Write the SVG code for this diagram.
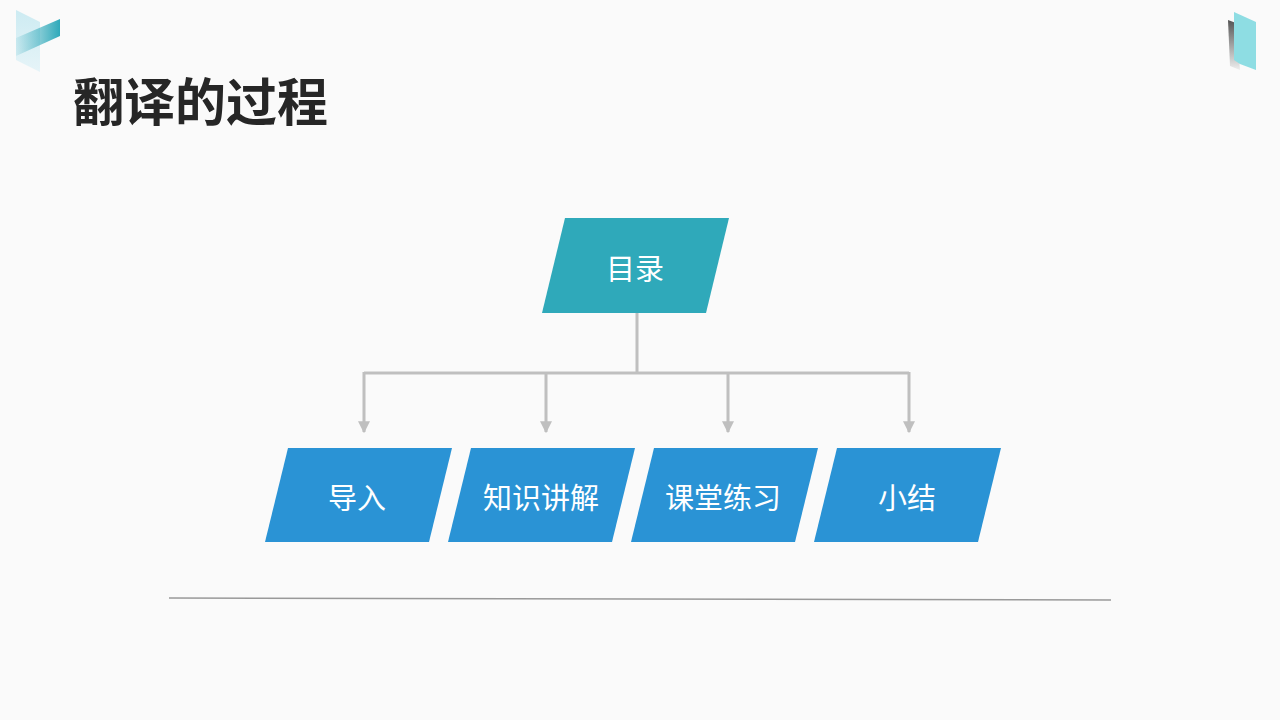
<svg xmlns="http://www.w3.org/2000/svg" width="1280" height="720" viewBox="0 0 1280 720">
<defs>
<style>
.title{font-family:"Noto Sans CJK SC","Noto Sans",sans-serif;font-weight:700;font-size:51px;fill:#262626}
.lbl{font-family:"Noto Sans CJK SC","Noto Sans",sans-serif;font-size:29px;font-weight:400;fill:#ffffff;text-anchor:middle;dominant-baseline:central}
.sub{fill:#2A93D5}
.conn{stroke:#BFBFBF;stroke-width:3;fill:none}
</style>
<marker id="arr" viewBox="0 0 10 10" refX="9" refY="5" markerWidth="4" markerHeight="4" markerUnits="strokeWidth" orient="auto">
<path d="M0,0 L10,5 L0,10 Z" fill="#BFBFBF"/>
</marker>
<linearGradient id="lg1" x1="0" y1="0" x2="0" y2="1"><stop offset="0" stop-color="#CDEBF2"/><stop offset="1" stop-color="#E6F4F8"/></linearGradient>
<linearGradient id="lg2" x1="0" y1="0" x2="1" y2="0"><stop offset="0" stop-color="#2FA9BA" stop-opacity="0.1"/><stop offset="1" stop-color="#2FA9BA"/></linearGradient>
<linearGradient id="lg3" x1="0" y1="0" x2="0" y2="1"><stop offset="0" stop-color="#555"/><stop offset="1" stop-color="#EEE"/></linearGradient>
</defs>
<rect width="1280" height="720" fill="#FAFAFA"/>
<g id="logo-left">
<polygon points="16,10 40,22 40,72 16,60" fill="url(#lg1)"/>
<polygon points="16,38 60,19 60,36 16,56" fill="url(#lg2)"/>
</g>
<g id="logo-right">
<polygon points="1228,20 1236,23 1240,70 1230,66" fill="url(#lg3)"/>
<polygon points="1234,12 1256,22 1256,70 1240,64 1234,60" fill="#8EDDE3"/>
</g>
<text class="title" x="73" y="121">翻译的过程</text>
<g id="connectors">
<polyline class="conn" points="637,313 637,373"/>
<polyline class="conn" points="364,373 909,373"/>
<line class="conn" x1="364" y1="372" x2="364" y2="432" marker-end="url(#arr)"/>
<line class="conn" x1="546" y1="372" x2="546" y2="432" marker-end="url(#arr)"/>
<line class="conn" x1="728" y1="372" x2="728" y2="432" marker-end="url(#arr)"/>
<line class="conn" x1="909" y1="372" x2="909" y2="432" marker-end="url(#arr)"/>
</g>
<g id="node-mulu">
<polygon points="565,218 729,218 706,313 542,313" fill="#2FA9BA"/>
<text class="lbl" x="635" y="267">目录</text>
</g>
<g id="node-daoru">
<polygon class="sub" points="288,448 452,448 429,542 265,542"/>
<text class="lbl" x="357" y="496">导入</text>
</g>
<g id="node-zhishi">
<polygon class="sub" points="471,448 635,448 612,542 448,542"/>
<text class="lbl" x="541" y="496">知识讲解</text>
</g>
<g id="node-lianxi">
<polygon class="sub" points="654,448 818,448 795,542 631,542"/>
<text class="lbl" x="723" y="496">课堂练习</text>
</g>
<g id="node-xiaojie">
<polygon class="sub" points="837,448 1001,448 978,542 814,542"/>
<text class="lbl" x="907" y="496">小结</text>
</g>
<line x1="169" y1="598" x2="1111" y2="600" stroke="#999999" stroke-width="1.5"/>
</svg>
